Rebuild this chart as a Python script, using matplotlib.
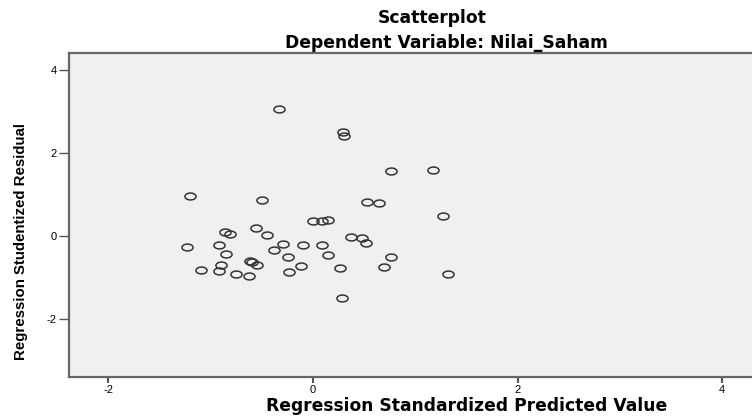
import numpy as np
import matplotlib
matplotlib.use("Agg")
import matplotlib.pyplot as plt
from matplotlib.path import Path

# values
pred = [-0.33, 0.29, 0.30, -1.20, -0.50, 0.76, 1.17, 0.53, 0.65, 1.27,
        0.00, 0.09, 0.15, -0.86, -0.81, -0.56, -0.45, -1.23, -0.92, -0.29,
        -0.10, 0.09, 0.37, -0.85, -0.38, -0.24, 0.15, -0.90, -0.62, -0.60,
        -0.55, -1.10, -0.92, -0.75, -0.63, -0.23, -0.12, 0.26, 0.28, 0.48,
        0.52, 0.76, 0.69, 1.32]
resid = [3.06, 2.51, 2.42, 0.96, 0.86, 1.57, 1.60, 0.83, 0.80, 0.47,
         0.37, 0.36, 0.39, 0.10, 0.04, 0.19, 0.02, -0.27, -0.21, -0.20,
         -0.22, -0.23, -0.03, -0.43, -0.35, -0.50, -0.45, -0.69, -0.60, -0.62,
         -0.70, -0.83, -0.84, -0.92, -0.97, -0.86, -0.72, -0.77, -1.50, -0.06,
         -0.18, -0.50, -0.75, -0.92]
xticks = [-2, 0, 2, 4]
yticks = [-2, 0, 2, 4]

# slightly flattened circle like the SPSS marker
t = np.linspace(0, 2 * np.pi, 60)
ell = Path(np.column_stack([np.cos(t), 0.62 * np.sin(t)]), closed=True)

fig = plt.figure(figsize=(7.52, 4.16), dpi=100)
ax = fig.add_axes([69 / 752, 1 - 377 / 416, (752 - 69) / 752, (377 - 53) / 416])
ax.set_facecolor("#f0f0f0")

ax.plot(pred, resid, linestyle="none", marker=ell, markersize=8,
        markerfacecolor="none", markeredgecolor="#333333", markeredgewidth=1.1)

ax.set_xlim(-2.386, 4.293)
ax.set_ylim(-3.40, 4.41)
ax.set_xticks(xticks)
ax.set_yticks(yticks)
ax.set_xticklabels([str(v) for v in xticks], fontsize=8, family="Liberation Sans")
ax.set_yticklabels([str(v) for v in yticks], fontsize=8, family="Liberation Sans")
ax.tick_params(axis="y", direction="out", length=7, width=1, color="#555555", pad=2)
ax.tick_params(axis="x", direction="out", length=4, width=1.5, color="#555555", pad=2)

ax.spines["right"].set_visible(False)
for s in ["top", "left", "bottom"]:
    ax.spines[s].set_color("#666666")
    ax.spines[s].set_linewidth(1.6)

# labels and titles
bold = dict(fontsize=12.3, fontweight="bold", family="DejaVu Sans")
ax.set_xlabel("Regression Standardized Predicted Value", **bold)
ax.xaxis.label.set_va("center")
ax.xaxis.set_label_coords((467 - 69) / (752 - 69), -(406 - 377) / (377 - 53))
ax.set_ylabel("Regression Studentized Residual", fontsize=10.8, fontweight="bold",
              family="Liberation Sans")
ax.yaxis.label.set_va("center")
ax.yaxis.set_label_coords(-(69 - 21) / (752 - 69), (377 - 241) / (377 - 53))

fig.text(432 / 752, 1 - 18 / 416, "Scatterplot", ha="center", va="center", **bold)
fig.text(446 / 752, 1 - 43 / 416, "Dependent Variable: Nilai_Saham", ha="center",
         va="center", **bold)

fig.savefig("out.png", dpi=100)
